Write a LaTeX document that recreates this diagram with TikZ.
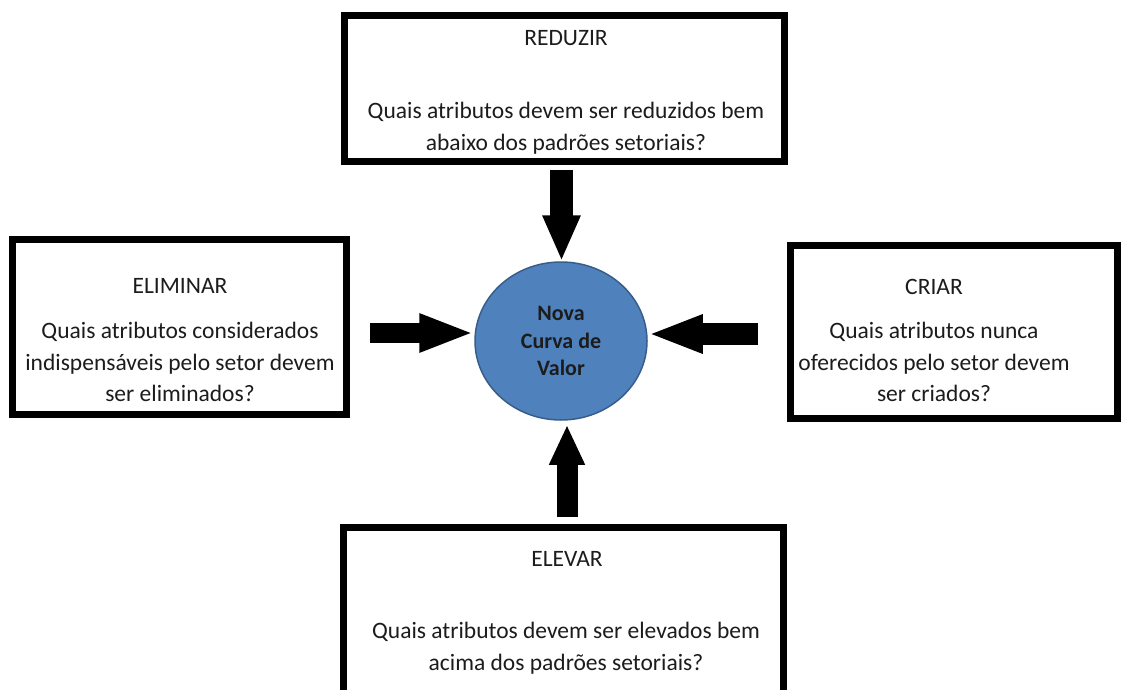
\documentclass[tikz,border=0pt]{standalone}
\usepackage{fontspec}
\setmainfont{Carlito}
\usetikzlibrary{arrows.meta,shapes.geometric}
\definecolor{circfill}{RGB}{79,129,189}
\definecolor{circline}{RGB}{56,93,138}
\definecolor{inktext}{RGB}{28,28,28}
\begin{document}
\begin{tikzpicture}[x=1pt,y=-1pt,
  framebox/.style={draw=black,line width=7pt,fill=white,rectangle,inner sep=0pt},
  title/.style={font=\fontsize{23.5}{31}\selectfont,text=inktext,inner sep=0pt},
  question/.style={font=\fontsize{23.5}{31.5}\selectfont,text=inktext,align=center,inner sep=0pt},
  blockarrow/.style={line width=#1,draw=black},
  blockarrow/.default=22pt]
\useasboundingbox (0,0) rectangle (1121,690);
\clip (0,0) rectangle (1121,690);

% boxes
\node[framebox,minimum width=440pt,minimum height=145pt] (reduzir) at (564,88.5) {};
\node[framebox,minimum width=334pt,minimum height=175pt] (eliminar) at (179,326.5) {};
\node[framebox,minimum width=327pt,minimum height=173pt] (criar) at (953.5,331.5) {};
\node[framebox,minimum width=440pt,minimum height=166pt] (elevar) at (563,610) {};

% box texts
\node[title] (t1) at (566,38) {REDUZIR};
\node[question] (q1) at (566,128) {Quais atributos devem ser reduzidos bem\\abaixo dos padrões setoriais?};
\node[title] (t2) at (180,286) {ELIMINAR};
\node[question] (q2) at (180,362) {Quais atributos considerados\\indispensáveis pelo setor devem\\ser eliminados?};
\node[title] (t3) at (934,287) {CRIAR};
\node[question] (q3) at (934,362) {Quais atributos nunca\\oferecidos pelo setor devem\\ser criados?};
\node[title] (t4) at (567,559) {ELEVAR};
\node[question] (q4) at (566,648) {Quais atributos devem ser elevados bem\\acima dos padrões setoriais?};

% centre
\node[ellipse,fill=circfill,draw=circline,line width=1.5pt,minimum width=172pt,minimum height=158pt,
      align=center,font=\fontsize{22}{27.5}\selectfont\bfseries,text=inktext] (valor) at (561,341)
      {Nova\\Curva de\\Valor};

% arrows
\coordinate (aTop) at (561.5,170);
\coordinate (aLeft) at (370,333);
\coordinate (aRight) at (758,334);
\coordinate (aBot) at (567,517);
\draw[blockarrow=23pt,-{Triangle[length=46pt,width=35pt]}] (aTop) -- (aTop |- valor.north);
\draw[blockarrow=20pt,-{Triangle[length=55pt,width=35pt]}] (aLeft) -- (aLeft -| valor.west);
\draw[blockarrow=22pt,-{Triangle[length=55pt,width=35pt]}] (aRight) -- (aRight -| valor.east);
\draw[blockarrow=21pt,-{Triangle[length=40pt,width=33pt]}] (aBot) -- ([yshift=-4pt]aBot |- valor.south);
\end{tikzpicture}
\end{document}
